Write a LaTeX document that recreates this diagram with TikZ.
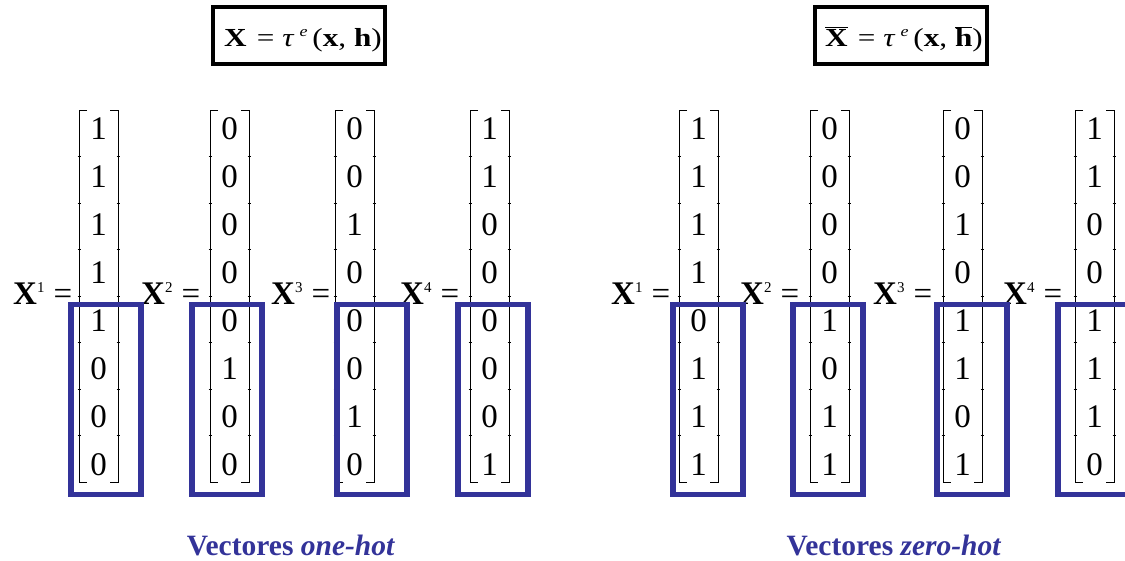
\documentclass[tikz,border=0pt]{standalone}
\usepackage{fontspec}
\setmainfont{Liberation Serif}
\definecolor{hotblue}{HTML}{333399}
\tikzset{
  digit/.style={font=\fontsize{33}{33}\selectfont, inner sep=0pt, anchor=base},
  vecbox/.style={draw=hotblue, line width=5.5pt},
  bracketline/.style={draw, line width=0.9pt},
  tickline/.style={draw, line width=0.6pt},
  titlebox/.style={draw, line width=4pt, minimum width=172pt, minimum height=57pt, inner sep=0pt},
  titletext/.style={font=\fontsize{26}{26}\selectfont, anchor=base, inner sep=0pt},
  captiontext/.style={text=hotblue, font=\fontsize{29.5}{29.5}\selectfont\bfseries, anchor=base, inner sep=0pt},
  lhstext/.style={font=\fontsize{33}{33}\selectfont, anchor=base west, inner sep=0pt},
}
\newcommand{\supr}[1]{\raisebox{12pt}{\fontsize{15}{15}\selectfont #1}}
\newcommand{\supe}{\raisebox{10pt}{\fontsize{15}{15}\selectfont\itshape e}}
\newlength{\ovw}
\newcommand{\ovl}[1]{\settowidth{\ovw}{#1}\rlap{\raisebox{18.5pt}{\rule{\ovw}{1.4pt}}}{#1}}
\begin{document}
\begin{tikzpicture}[x=1pt,y=-1pt]
\useasboundingbox (0,0) rectangle (1125,561);
\clip (0,0) rectangle (1125,561);
% titles
\node[titlebox] (titleL) at (299,35.5) {};
\node[titletext] (titleLtext) at (303,47) {\scalebox{1.2}[1]{\textbf{X}\hspace{2pt} = \textit{τ}\,\supe\hspace{4pt}(\textbf{x}, \textbf{h})}};
\node[titlebox] (titleR) at (900.5,35.5) {};
\node[titletext] (titleRtext) at (904,47) {\scalebox{1.2}[1]{\ovl{\textbf{X}}\hspace{2pt} = \textit{τ}\,\supe\hspace{4pt}(\textbf{x}, \ovl{\textbf{h}})}};
% vectors
\foreach [count=\k] \lx/\vals in {
  79/{1,1,1,1,1,0,0,0},
  210/{0,0,0,0,0,1,0,0},
  335/{0,0,1,0,0,0,1,0},
  470/{1,1,0,0,0,0,0,1},
  679/{1,1,1,1,0,1,1,1},
  810/{0,0,0,0,1,0,1,1},
  943/{0,0,1,0,1,1,0,1},
  1075/{1,1,0,0,1,1,1,0}} {
  \pgfmathsetmacro{\rx}{\lx+39}
  \pgfmathsetmacro{\cx}{\lx+19.5}
  \draw[bracketline] (\lx+8,110) -- (\lx,110) -- (\lx,482) -- (\lx+8,482);
  \draw[bracketline] (\rx-8,110) -- (\rx,110) -- (\rx,482) -- (\rx-8,482);
  \foreach \t in {1,...,7} {
    \draw[tickline] (\lx-1.5,110+46.5*\t) -- (\lx+1.5,110+46.5*\t);
    \draw[tickline] (\rx-1.5,110+46.5*\t) -- (\rx+1.5,110+46.5*\t);
  }
  \foreach [count=\r] \v in \vals {
    \node[digit] (m\k-\r) at (\cx,140+47.9*\r-47.9) {\v};
  }
}
% left-hand sides
\foreach [count=\k] \px/\n in {13/1,141/2,271/3,400/4,611/1,740/2,873/3,1003/4} {
  \node[lhstext] (lhs\k) at (\px,305) {\textbf{X}\supr{\n}\hspace{9pt}=};
}
% highlight boxes
\foreach [count=\k] \bx in {71,192,337,458,673,793,937,1058} {
  \draw[vecbox] (\bx,304.5) rectangle (\bx+70,494.5);
}
% captions
\node[captiontext] (capL) at (291,555) {Vectores \textit{one-hot}};
\node[captiontext] (capR) at (894,555) {Vectores \textit{zero-hot}};
\end{tikzpicture}
\end{document}
